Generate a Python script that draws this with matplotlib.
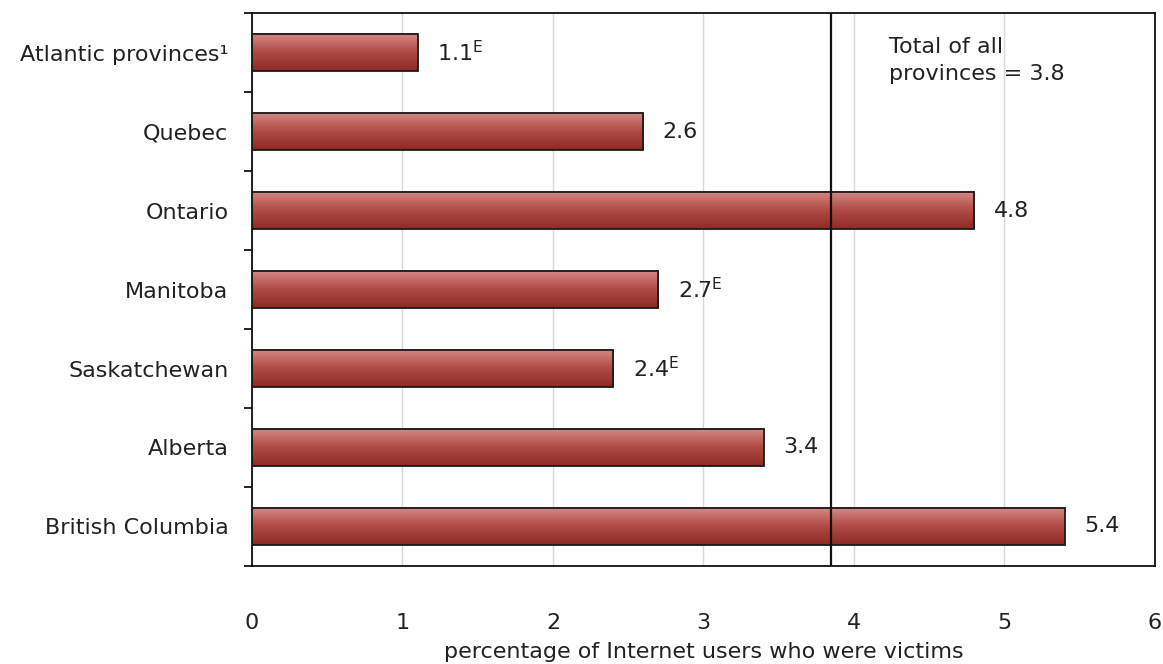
import numpy as np
import matplotlib.pyplot as plt
from matplotlib.colors import LinearSegmentedColormap

provinces = ["Atlantic provinces\u00b9", "Quebec", "Ontario", "Manitoba",
             "Saskatchewan", "Alberta", "British Columbia"]
values = [1.1, 2.6, 4.8, 2.7, 2.4, 3.4, 5.4]
flags = ["E", "", "", "E", "E", "", ""]
total = 3.85
total_text = "Total of all\nprovinces = 3.8"

plt.rcParams['font.family'] = ['DejaVu Sans']
fs = 16
fig = plt.figure(figsize=(11.63, 6.64), dpi=100)
ax = fig.add_axes([0.2167, 0.1476, 0.7763, 0.8328])

n = len(provinces)
ypos = np.arange(n)[::-1]
h = 0.48
cmap = LinearSegmentedColormap.from_list("bar", ["#d68a86", "#b14a45", "#8e2a24"])
grad = np.linspace(0, 1, 64).reshape(-1, 1)

for y, v in zip(ypos, values):
    ax.imshow(grad, cmap=cmap, aspect="auto", origin="upper",
              extent=[0, v, y - h / 2, y + h / 2], zorder=2)
    ax.add_patch(plt.Rectangle((0, y - h / 2), v, h, fill=False,
                               edgecolor="#1a1a1a", lw=1.3, zorder=3))

for y, v, f in zip(ypos, values, flags):
    label = f"{v:.1f}" + (r"$^{\mathrm{" + f + "}}$" if f else "")
    ax.annotate(label, (v, y), xytext=(14, 0), textcoords="offset points",
                va="center", ha="left", fontsize=fs, color="#222222")

ax.axvline(total, color="#111111", lw=1.6, zorder=4)
ax.text(4.23, n - 0.8, total_text, va="top", ha="left", fontsize=fs,
        color="#222222", linespacing=1.45)

ax.set_xlim(0, 6)
ax.set_ylim(-0.5, n - 0.5)
ax.set_xticks(range(7))
ax.xaxis.grid(True, color="#d8d8d8", lw=1, zorder=0)
ax.set_axisbelow(True)
ax.set_yticks(ypos)
ax.set_yticklabels(provinces)
ax.set_yticks(np.arange(-0.5, n, 1), minor=True)
ax.tick_params(axis="y", which="major", length=0, pad=17, labelsize=fs,
               labelcolor="#222222")
ax.tick_params(axis="y", which="minor", length=6, width=1.2, direction="out")
ax.tick_params(axis="x", length=0, pad=34, labelsize=fs, labelcolor="#222222")
for s in ax.spines.values():
    s.set_linewidth(1.3)
    s.set_color("#111111")
ax.set_xlabel("percentage of Internet users who were victims", fontsize=fs,
              color="#222222")
ax.xaxis.set_label_coords(0.5, -0.137)

fig.savefig("out.png", dpi=100)
